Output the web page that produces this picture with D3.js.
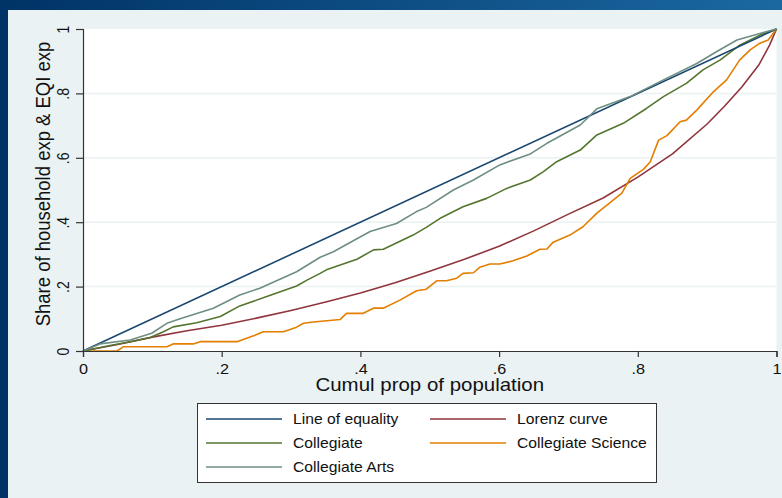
<!DOCTYPE html>
<html><head><meta charset="utf-8">
<script src="https://cdn.jsdelivr.net/npm/d3@7"></script>
<style>html,body{margin:0;padding:0;background:#eaf2f3;}svg{display:block;font-family:"Liberation Sans",Arial,sans-serif;}</style>
</head><body>
<svg id="c" width="782" height="498"></svg>
<script>
// ---- data ----
const xTicks = [0, 0.2, 0.4, 0.6, 0.8, 1];
const xTickLabels = ["0", ".2", ".4", ".6", ".8", "1"];
const yTicks = [0, 0.2, 0.4, 0.6, 0.8, 1];
const yTickLabels = ["0", ".2", ".4", ".6", ".8", "1"];
const seriesNames = ["Line of equality", "Lorenz curve", "Collegiate", "Collegiate Science", "Collegiate Arts"];
const seriesColors = ["#1a476f", "#90353b", "#55752f", "#e37e00", "#6e8e84"];

const equalityX = [0, 1];
const equalityY = [0, 1];

const lorenzX = [0, 0.05, 0.1, 0.15, 0.2, 0.25, 0.3, 0.35, 0.4, 0.45, 0.5, 0.55, 0.6, 0.65, 0.7, 0.75, 0.8, 0.85, 0.9, 0.925, 0.95, 0.975, 0.99, 1];
const lorenzY = [0, 0.02, 0.043, 0.063, 0.08, 0.102, 0.126, 0.152, 0.18, 0.212, 0.248, 0.285, 0.325, 0.373, 0.425, 0.475, 0.54, 0.612, 0.705, 0.76, 0.82, 0.89, 0.95, 1];

const collegiateX = [0, 0.039, 0.068, 0.097, 0.116, 0.13, 0.164, 0.198, 0.226, 0.265, 0.308, 0.323, 0.342, 0.351, 0.395, 0.419, 0.433, 0.476, 0.495, 0.515, 0.548, 0.582, 0.611, 0.645, 0.664, 0.683, 0.717, 0.741, 0.779, 0.813, 0.837, 0.87, 0.894, 0.919, 0.947, 0.976, 1];
const collegiateY = [0, 0.017, 0.029, 0.042, 0.06, 0.075, 0.088, 0.107, 0.14, 0.169, 0.202, 0.22, 0.241, 0.252, 0.285, 0.314, 0.316, 0.36, 0.384, 0.412, 0.448, 0.474, 0.505, 0.531, 0.557, 0.588, 0.624, 0.671, 0.707, 0.754, 0.79, 0.831, 0.873, 0.904, 0.95, 0.981, 1];

const scienceX = [0, 0.049, 0.058, 0.121, 0.13, 0.159, 0.169, 0.222, 0.246, 0.26, 0.289, 0.308, 0.318, 0.332, 0.371, 0.38, 0.404, 0.419, 0.433, 0.457, 0.481, 0.495, 0.51, 0.524, 0.539, 0.548, 0.563, 0.572, 0.587, 0.601, 0.62, 0.64, 0.659, 0.669, 0.678, 0.702, 0.721, 0.741, 0.76, 0.777, 0.789, 0.808, 0.818, 0.83, 0.842, 0.861, 0.87, 0.885, 0.909, 0.928, 0.947, 0.962, 0.976, 0.988, 1];
const scienceY = [0, 0, 0.013, 0.013, 0.022, 0.022, 0.029, 0.029, 0.047, 0.06, 0.06, 0.074, 0.086, 0.09, 0.098, 0.117, 0.117, 0.133, 0.133, 0.158, 0.187, 0.192, 0.218, 0.218, 0.226, 0.241, 0.243, 0.26, 0.27, 0.27, 0.28, 0.295, 0.316, 0.317, 0.338, 0.36, 0.386, 0.428, 0.461, 0.49, 0.536, 0.564, 0.588, 0.655, 0.669, 0.712, 0.717, 0.748, 0.805, 0.842, 0.904, 0.935, 0.956, 0.966, 1];

const artsX = [0, 0.0245, 0.068, 0.099, 0.121, 0.14, 0.188, 0.226, 0.255, 0.308, 0.342, 0.361, 0.414, 0.452, 0.481, 0.495, 0.534, 0.563, 0.601, 0.645, 0.669, 0.717, 0.741, 0.789, 0.837, 0.885, 0.914, 0.943, 0.976, 1];
const artsY = [0, 0.022, 0.034, 0.055, 0.086, 0.1, 0.133, 0.174, 0.195, 0.246, 0.291, 0.308, 0.371, 0.396, 0.433, 0.446, 0.5, 0.531, 0.578, 0.612, 0.645, 0.702, 0.752, 0.79, 0.842, 0.893, 0.93, 0.966, 0.986, 1];

// ---- drawing ----
const svg = d3.select("#c");
const W = 782, H = 498;
const SX = 1.12; // horizontal stretch of the original's text
const defs = svg.append("defs");
const grad = defs.append("linearGradient").attr("id", "topg").attr("x1", "0").attr("x2", "1");
grad.append("stop").attr("offset", "0").attr("stop-color", "#003366");
grad.append("stop").attr("offset", "1").attr("stop-color", "#1b68a1");

svg.append("rect").attr("width", W).attr("height", H).attr("fill", "#eaf2f3");
svg.append("rect").attr("x", 0).attr("y", 0).attr("width", W).attr("height", 10).attr("fill", "url(#topg)");
svg.append("rect").attr("x", 0).attr("y", 0).attr("width", 8).attr("height", H).attr("fill", "#003366");

const x = d3.scaleLinear().domain([0, 1]).range([83, 776.5]);
const y = d3.scaleLinear().domain([0, 1]).range([351, 29]);

// plot region
svg.append("rect").attr("x", x(0)).attr("y", y(1)).attr("width", x(1) - x(0)).attr("height", y(0) - y(1)).attr("fill", "#ffffff");

// gridlines
svg.append("g").selectAll("line").data(yTicks.filter(d => d > 0 && d < 1)).join("line")
  .attr("x1", x(0)).attr("x2", x(1)).attr("y1", d => y(d)).attr("y2", d => y(d))
  .attr("stroke", "#eaf2f3").attr("stroke-width", 1.5);

// series
const series = [
  [equalityX, equalityY], [lorenzX, lorenzY], [collegiateX, collegiateY], [scienceX, scienceY], [artsX, artsY]
];
const line = d3.line().x(d => x(d[0])).y(d => y(d[1]));
const order = [1, 3, 2, 0, 4];
order.forEach(i => {
  const [xs, ys] = series[i];
  svg.append("path").datum(xs.map((v, k) => [v, ys[k]]))
    .attr("d", line).attr("fill", "none").attr("stroke", seriesColors[i])
    .attr("stroke-width", 1.6).attr("stroke-linejoin", "round");
});

// axes
const xAxis = d3.axisBottom(x).tickValues(xTicks).tickFormat((d, i) => xTickLabels[i]).tickSizeOuter(0).tickSize(6).tickPadding(4);
const gx = svg.append("g").attr("transform", `translate(0,${y(0)})`).call(xAxis);
gx.selectAll("path,line").attr("stroke", "#333").attr("stroke-width", 1.2);
gx.selectAll("text").attr("font-size", 14.5).attr("fill", "#111").attr("font-family", "Liberation Sans, Arial, sans-serif")
  .attr("y", 0).attr("dy", 0).attr("transform", `translate(0,22.5) scale(${SX},1)`);

const yAxis = d3.axisLeft(y).tickValues(yTicks).tickFormat((d, i) => yTickLabels[i]).tickSizeOuter(0).tickSize(7);
const gy = svg.append("g").attr("transform", `translate(${x(0)},0)`).call(yAxis);
gy.selectAll("path,line").attr("stroke", "#333").attr("stroke-width", 1.2);
gy.selectAll("text").attr("font-size", 14).attr("fill", "#111").attr("font-family", "Liberation Sans, Arial, sans-serif")
  .attr("transform", `scale(${SX},1) rotate(-90)`).attr("x", 0).attr("y", -12.5).attr("dy", 0).attr("text-anchor", "middle");

// axis titles
svg.append("text").attr("transform", `translate(${(x(0) + x(1)) / 2},391) scale(1.17,1)`).attr("text-anchor", "middle")
  .attr("font-size", 17.5).attr("fill", "#111").text("Cumul prop of population");
svg.append("text").attr("transform", `translate(50,184) scale(${SX},1) rotate(-90)`).attr("text-anchor", "middle")
  .attr("font-size", 18.5).attr("fill", "#111").text("Share of household exp & EQI exp");

// legend
const lg = svg.append("g");
lg.append("rect").attr("x", 197.5).attr("y", 403.5).attr("width", 459).attr("height", 79)
  .attr("fill", "#fff").attr("stroke", "#333").attr("stroke-width", 1);
const legPos = [[0, 0], [1, 0], [0, 1], [1, 1], [0, 2]];
const colX = [206, 430], rowY = [419, 443, 467];
seriesNames.forEach((name, i) => {
  const [c, r] = legPos[i];
  lg.append("line").attr("x1", colX[c]).attr("x2", colX[c] + 76).attr("y1", rowY[r]).attr("y2", rowY[r])
    .attr("stroke", seriesColors[i]).attr("stroke-width", 1.6);
  lg.append("text").attr("transform", `translate(${colX[c] + 87},${rowY[r] + 5}) scale(${SX},1)`)
    .attr("font-size", 14).attr("fill", "#111").text(name);
});
</script>
</body></html>
